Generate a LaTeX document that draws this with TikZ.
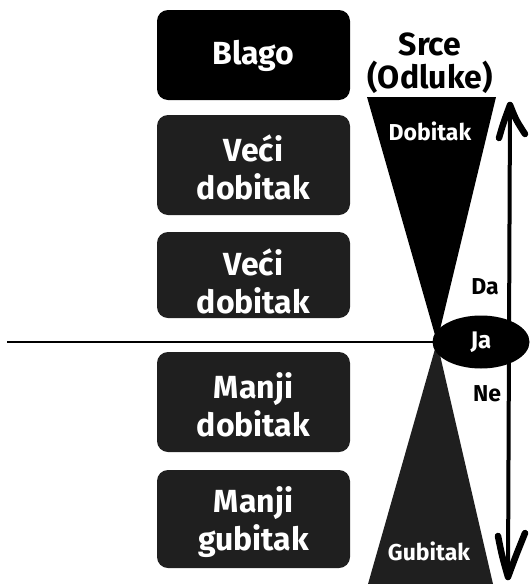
\documentclass[tikz,border=0pt]{standalone}
\usepackage{fontspec}
\setmainfont{Fira Sans}
\usetikzlibrary{shapes.geometric}
\begin{document}
\begin{tikzpicture}[x=1pt,y=-1pt,
  box/.style={rounded corners=11pt},
  boxtxt/.style={text=white,font=\fontsize{32}{38}\selectfont\bfseries,align=center},
  smalltxt/.style={font=\fontsize{23}{26}\selectfont\bfseries},
  head/.style={line width=6.5pt,line cap=round,line join=round}]
\useasboundingbox (0,0) rectangle (530,584);
% boxes
\fill[box,black] (157,10) rectangle (350,100);
\fill[box,black!88] (157,115) rectangle (350,215);
\fill[box,black!88] (157,232) rectangle (350,318);
\fill[box,black!88] (157,352) rectangle (350,452);
\fill[box,black!88] (157,470) rectangle (350,568);
\node[boxtxt] (b1) at (253.5,56) {Blago};
\node[boxtxt] (b2) at (253.5,167) {Veći\\dobitak};
\node[boxtxt] (b3) at (253.5,281) {Veći\\dobitak};
\node[boxtxt] (b4) at (253.5,405) {Manji\\dobitak};
\node[boxtxt] (b5) at (253.5,522) {Manji\\gubitak};
% horizontal line
\coordinate (apex) at (437,342);
\coordinate (lft) at (7,342);
\draw[line width=1.8pt] (lft) -- (apex);
% funnels
\fill[black] (367,97) -- (496,97) -- (apex) -- cycle;
\fill[black!88] (apex) -- (368,584) -- (493,584) -- cycle;
% arrow
\coordinate (atop) at (510,105);
\coordinate (abot) at (508,577);
\draw[line width=4pt] (atop) -- (abot);
\draw[head] (499,138) .. controls (503,124) .. (atop) .. controls (516,120) .. (525,134);
\draw[head] (498,536) .. controls (502,556) .. (abot) .. controls (515,558) .. (525,533);
% ellipse
\node[ellipse,fill=black,minimum width=97pt,minimum height=53pt,inner sep=0pt,text=white,font=\fontsize{24}{26}\selectfont\bfseries] (ja) at (481,342) {Ja};
% labels
\node[font=\fontsize{32}{33}\selectfont\bfseries,align=center] (srce) at (430,63) {Srce\\(Odluke)};
\node[smalltxt,text=white] (dob) at (430,131) {Dobitak};
\node[smalltxt,text=white] (gub) at (429,551) {Gubitak};
\node[smalltxt] (da) at (485,287) {Da};
\node[smalltxt] (ne) at (487,394) {Ne};
\end{tikzpicture}
\end{document}
